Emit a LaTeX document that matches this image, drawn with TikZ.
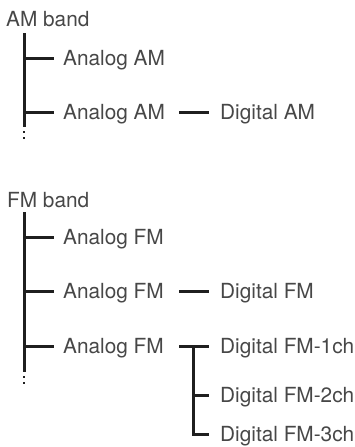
\documentclass[tikz,border=0pt]{standalone}
\usepackage{fontspec}
\setmainfont{TeX Gyre Heros}
\begin{document}
\begin{tikzpicture}[x=1pt,y=-1pt,
  lbl/.style={anchor=base west, inner sep=0pt, font=\fontsize{20.8}{24}\selectfont, text=black!72},
  tree/.style={line width=3pt, draw=black!88, line join=miter},
  tdot/.style={fill=black!88, draw=none}]
\useasboundingbox (0,0) rectangle (355,447);
% ---- AM band ----
\node[lbl] (am) at (6,27) {AM band};
\node[lbl] (am1) at (63,65.5) {Analog AM};
\node[lbl] (am2) at (63,119.5) {Analog AM};
\node[lbl] (dam) at (220,119.5) {Digital AM};
\coordinate (amtop) at (24,33);
\coordinate (amend) at (24,127);
\coordinate (amb1) at (24,58);
\coordinate (amb1e) at (54,58);
\coordinate (amb2) at (24,112);
\coordinate (amb2e) at (54,112);
\coordinate (amc1) at (179,112);
\coordinate (amc2) at (209,112);
\draw[tree] (amtop) -- (amend);
\draw[tree] (amb1) -- (amb1e);
\draw[tree] (amb2) -- (amb2e);
\draw[tree] (amc1) -- (amc2);
\fill[tdot] (22.7,130.7) rectangle (25.3,133.3);
\fill[tdot] (22.7,136.7) rectangle (25.3,139.3);
% ---- FM band ----
\node[lbl] (fm) at (7,207) {FM band};
\node[lbl] (fm1) at (63,244.5) {Analog FM};
\node[lbl] (fm2) at (63,298.5) {Analog FM};
\node[lbl] (fm3) at (63,353.5) {Analog FM};
\node[lbl] (dfm) at (220,298.5) {Digital FM};
\node[lbl] (d1) at (220,353.5) {Digital FM-1ch};
\node[lbl] (d2) at (220,402.5) {Digital FM-2ch};
\node[lbl] (d3) at (220,441.5) {Digital FM-3ch};
\coordinate (fmtop) at (24,212);
\coordinate (fmend) at (24,372);
\coordinate (fmb1) at (24,237);
\coordinate (fmb1e) at (54,237);
\coordinate (fmb2) at (24,291);
\coordinate (fmb2e) at (54,291);
\coordinate (fmb3) at (24,346);
\coordinate (fmb3e) at (54,346);
\coordinate (fmc1) at (179,291);
\coordinate (fmc2) at (209,291);
\coordinate (sa) at (179,346);
\coordinate (sb) at (209,346);
\coordinate (sv) at (193,346);
\coordinate (s2) at (193,395);
\coordinate (s2e) at (209,395);
\coordinate (s3) at (193,434);
\coordinate (s3e) at (209,434);
\draw[tree] (fmtop) -- (fmend);
\draw[tree] (fmb1) -- (fmb1e);
\draw[tree] (fmb2) -- (fmb2e);
\draw[tree] (fmb3) -- (fmb3e);
\draw[tree] (fmc1) -- (fmc2);
\draw[tree] (sa) -- (sb);
\draw[tree] (sv) -- (s3) -- (s3e);
\draw[tree] (s2) -- (s2e);
\fill[tdot] (22.7,375.7) rectangle (25.3,378.3);
\fill[tdot] (22.7,381.7) rectangle (25.3,384.3);
\end{tikzpicture}
\end{document}
